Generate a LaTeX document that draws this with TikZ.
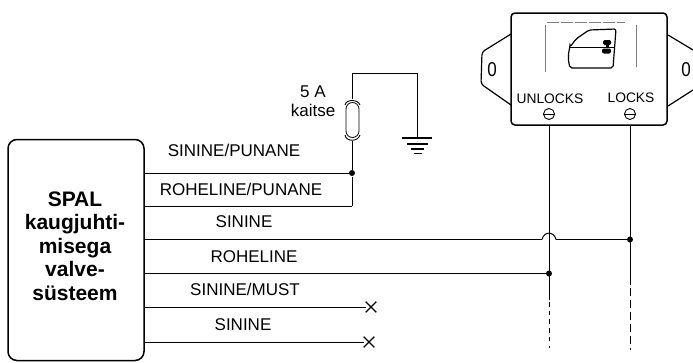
\documentclass[tikz,border=0pt]{standalone}
\usepackage{fontspec}
\setmainfont{Liberation Sans}
\usetikzlibrary{shapes.misc}
\begin{document}
\begin{tikzpicture}[x=1pt,y=-1pt,line width=1pt,
    wire label/.style={font=\fontsize{17}{19}\selectfont,inner sep=0pt},
    small label/.style={font=\fontsize{13.8}{15}\selectfont,inner sep=0pt},
    title label/.style={font=\fontsize{21}{23.5}\selectfont\bfseries,align=center,inner sep=0pt},
    hole label/.style={font=\fontsize{20}{22}\selectfont,inner sep=0pt,xscale=0.85},
    dot node/.style={circle,fill=black,inner sep=0pt,minimum size=6pt},
    cross node/.style={cross out,draw,inner sep=0pt,minimum size=9.500pt,line width=1.2pt},
    minus node/.style={circle,draw,inner sep=0pt,minimum size=11pt,line width=0.9pt}]

    \useasboundingbox (0,0) rectangle (693,362);

    % control unit
    \node[draw,line width=1.5pt,rounded corners=9pt,minimum width=136pt,minimum height=221pt] (spal) at (76,250) {};
    \node[title label] (spaltext) at (75,246) {SPAL\\kaugjuhti-\\misega\\valve-\\süsteem};

    % door module
    \draw[line width=1.5pt,rounded corners=4pt] (511,13) rectangle (667,125);
    \draw[line width=1.2pt,rounded corners=3pt] (511,34) -- (482,52) -- (481,84) -- (511,105);
    \draw[line width=1.2pt] (668,35) -- (693,50);
    \draw[line width=1.2pt] (668,106) -- (693,90);
    \node[hole label] (holeleft) at (492,70) {0};
    \node[hole label] (holeright) at (686,70) {0};
    \draw[line width=0.4pt,gray] (545,25) -- (545,72);
    \draw[line width=0.4pt,gray] (636,25) -- (636,67);
    \draw[line width=0.3pt,gray,dash pattern=on 12pt off 2pt] (547,22) -- (625,22);
    % door
    \draw[line width=1.2pt,rounded corners=2pt] (570,47) -- (576,39) -- (589,30) -- (616,29) -- (613,68) -- (570,68) .. controls (568,60) and (568,54) .. (570,47) -- cycle;
    \draw[line width=1pt] (570,47) -- (615,47);
    \fill[rounded corners=1.5pt] (603,40) rectangle (611,45);
    \fill (605.5,44) rectangle (608.5,48);
    \fill[rounded corners=2pt] (602,48.5) rectangle (611,53.5);

    \node[small label] (unlocks) at (550,99) {UNLOCKS};
    \node[small label] (locks) at (631,98) {LOCKS};
    \node[minus node] (minusa) at (549,114) {};
    \node[minus node] (minusb) at (630,114) {};
    \draw[line width=0.9pt] (minusa.west) -- (minusa.east);
    \draw[line width=0.9pt] (minusb.west) -- (minusb.east);

    % wire ends
    \coordinate (w1) at (144,173);
    \coordinate (w2) at (144,206);
    \coordinate (w3) at (144,239.500);
    \coordinate (w4) at (144,273.500);
    \coordinate (w5) at (144,307);
    \coordinate (w6) at (144,342);
    \coordinate (c2) at (352,206);
    \coordinate (f1) at (352,99);
    \coordinate (f2) at (352,141);
    \coordinate (t1) at (352,73);
    \coordinate (t2) at (417,73);
    \coordinate (g1) at (417,138);
    \coordinate (m1) at (549,125);
    \coordinate (m2) at (630,125);
    \coordinate (m1s) at (549,300);
    \coordinate (m2s) at (630,285);
    \coordinate (m1e) at (549,348);
    \coordinate (m2e) at (630,350);
    \coordinate (j1) at (542,239.500);
    \coordinate (j2) at (556,239.500);

    \node[dot node] (d1) at (352,173) {};
    \node[dot node] (d2) at (630,239.500) {};
    \node[dot node] (d3) at (549,273.500) {};
    \node[cross node] (x1) at (371,307) {};
    \node[cross node] (x2) at (369,342) {};

    % fuse
    \node[draw,rounded rectangle,rotate=90,minimum width=35pt,minimum height=13pt,inner sep=0pt,line width=0.8pt] (fuse) at (352.500,120) {};
    \draw[line width=0.9pt] (345,105) .. controls (346,99) and (358,99) .. (360,105);
    \draw[line width=0.9pt] (345,135) .. controls (346,142) and (358,142) .. (360,135);

    % ground
    \coordinate (ga) at (402,138);
    \coordinate (gb) at (432,138);
    \draw[line width=1.1pt] (ga) -- (gb);
    \draw[line width=1.1pt] (407,144) -- (428,144);
    \draw[line width=1.1pt] (411,149) -- (424,149);
    \draw[line width=1.1pt] (414,153.500) -- (422,153.500);

    \path
        (w1) edge (d1)
        (w2) edge (c2)
        (c2) edge (d1)
        (d1) edge (f2)
        (f1) edge (t1)
        (t1) edge (t2)
        (t2) edge (g1)
        (w3) edge (j1)
        (j2) edge (d2)
        (w4) edge (d3)
        (w5) edge (x1)
        (w6) edge (x2)
        (m1) edge (m1s)
        (m2) edge (m2s)
    ;
    \draw (j1) .. controls (544,231) and (554,231) .. (j2);
    \draw[dash pattern=on 4.500pt off 4.200pt] (m1s) ++(0,2) -- (m1e);
    \draw[dash pattern=on 8pt off 4pt] (m2s) ++(0,3) -- (m2e);

    % labels
    \node[wire label] (l1) at (234,150) {SININE/PUNANE};
    \node[wire label] (l2) at (241,189) {ROHELINE/PUNANE};
    \node[wire label] (l3) at (244,222) {SININE};
    \node[wire label] (l4) at (254,257) {ROHELINE};
    \node[wire label] (l5) at (245,289) {SININE/MUST};
    \node[wire label] (l6) at (243,325) {SININE};
    \node[wire label,align=center,font=\fontsize{17}{19.500}\selectfont] (fuselabel) at (313,101) {5 A\\kaitse};
\end{tikzpicture}
\end{document}
